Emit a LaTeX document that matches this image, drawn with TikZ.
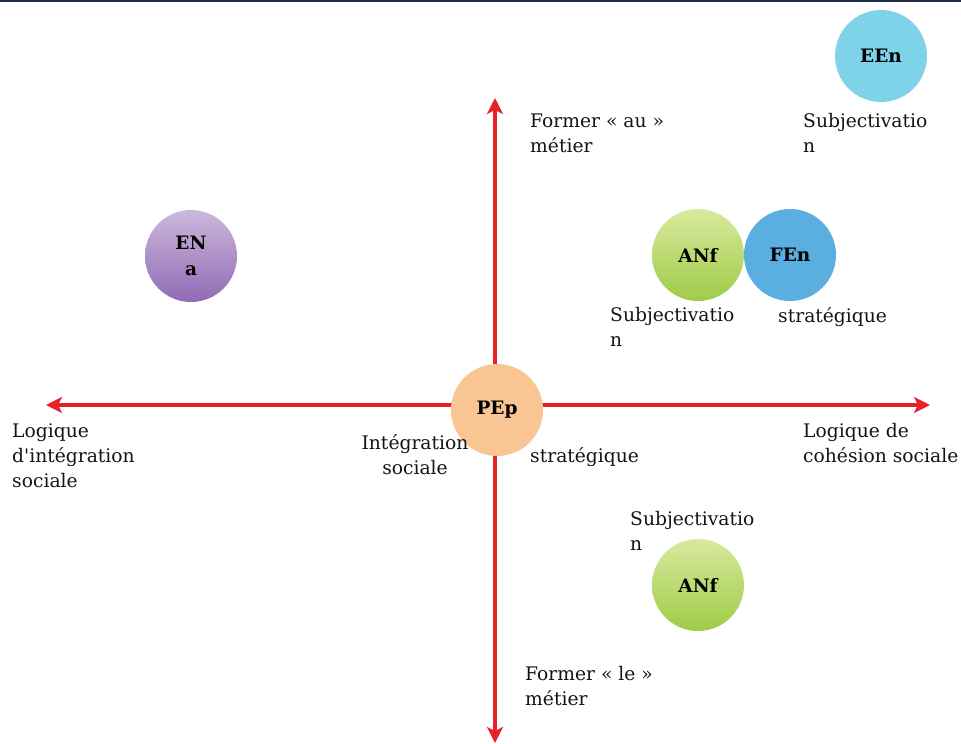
\documentclass[tikz,border=0pt]{standalone}
\usepackage{fontspec}
\setmainfont{DejaVu Serif}
\usetikzlibrary{arrows.meta}
\definecolor{axisred}{HTML}{E8202A}
\definecolor{rulenavy}{HTML}{1F2D4A}
\definecolor{pepfill}{HTML}{F8C593}
\definecolor{enatop}{HTML}{CDB8DD}
\definecolor{enabot}{HTML}{8F6BB4}
\definecolor{anftop}{HTML}{D8E99E}
\definecolor{anfbot}{HTML}{9FCB47}
\definecolor{fenfill}{HTML}{5AAEE0}
\definecolor{eenfill}{HTML}{7ED3E8}
\definecolor{inkgray}{HTML}{141414}
\tikzset{
  axis/.style={draw=axisred, line width=3.6pt,
    -{Stealth[length=16pt,width=16pt,inset=4pt]}},
  bubble/.style={circle, minimum size=92pt, inner sep=0pt, align=center,
    font=\fontsize{18.5}{26}\selectfont\bfseries, text=black},
  % multi-line labels are placed by the baseline of their last line
  lbl/.style={inner sep=0pt, anchor=base west, align=left, text=inkgray,
    font=\fontsize{18.7}{25}\selectfont},
}
\begin{document}
\begin{tikzpicture}[x=1pt,y=-1pt]
  \useasboundingbox (0,0) rectangle (961,744);
  % thin rule across the top
  \draw[rulenavy, line width=2pt] (0,1) -- (961,1);

  % axes
  \coordinate (c) at (495,405);
  \coordinate (west) at (46,405);
  \coordinate (east) at (930,405);
  \coordinate (north) at (495,98);
  \coordinate (south) at (495,743);
  \draw[axis] (c) -- (west);
  \draw[axis] (c) -- (east);
  \draw[axis] (c) -- (north);
  \draw[axis] (c) -- (south);

  % bubbles
  \node[bubble, fill=pepfill] (pep) at (497,410) {PEp};
  \node[bubble, top color=enatop, bottom color=enabot] (ena) at (191,256) {EN\\a};
  \node[bubble, top color=anftop, bottom color=anfbot] (anf1) at (698,255) {ANf};
  \node[bubble, fill=fenfill] (fen) at (790,255) {FEn};
  \node[bubble, fill=eenfill] (een) at (881,56) {EEn};
  \node[bubble, top color=anftop, bottom color=anfbot] (anf2) at (698,585) {ANf};

  % labels
  \node[lbl] (tN) at (530,152) {Former « au »\\métier};
  \node[lbl] (tS) at (525,705) {Former « le »\\métier};
  \node[lbl] (tW) at (12,487) {Logique\\d\textquotesingle intégration\\sociale};
  \node[lbl] (tE) at (803,462) {Logique de\\cohésion sociale};
  \node[lbl] (tEEn) at (803,152) {Subjectivatio\\n};
  \node[lbl] (tANf1) at (610,346) {Subjectivatio\\n};
  \node[lbl] (tFEn) at (778,322) {stratégique};
  \node[lbl, align=center, anchor=base] (tInt) at (415,474) {Intégration\\sociale};
  \node[lbl] (tStr) at (530,462) {stratégique};
  \node[lbl] (tANf2) at (630,550) {Subjectivatio\\n};
\end{tikzpicture}
\end{document}
